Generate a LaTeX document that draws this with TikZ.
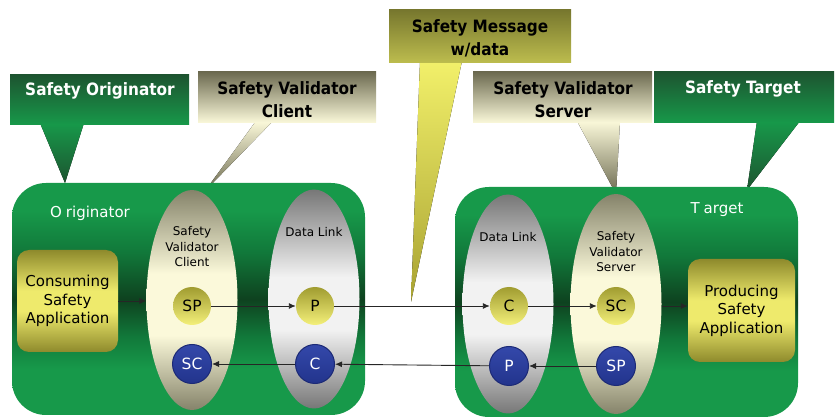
\documentclass[tikz,border=0pt]{standalone}
\usepackage{fontspec}
\setmainfont{DejaVu Sans}
\newfontfamily\calloutfont{DejaVu Sans Condensed}
\usetikzlibrary{shapes.geometric,arrows.meta}

% palette
\definecolor{grnB}{HTML}{17994A}
\definecolor{grnM}{HTML}{11783A}
\definecolor{grnD}{HTML}{0E421F}
\definecolor{grnTop}{HTML}{1D5430}
\definecolor{tanD}{HTML}{85836A}
\definecolor{tanL}{HTML}{FBF9DA}
\definecolor{tanTop}{HTML}{6C6A50}
\definecolor{greyD}{HTML}{777777}
\definecolor{greyL}{HTML}{F2F2F2}
\definecolor{oliveD}{HTML}{8E8A2C}
\definecolor{yellowL}{HTML}{EEEA6C}
\definecolor{msgTop}{HTML}{77772E}
\definecolor{msgBot}{HTML}{BDBD4E}
\definecolor{ptrY}{HTML}{F2F06A}
\definecolor{ptrO}{HTML}{A8A232}
\definecolor{blueT}{HTML}{3448AA}
\definecolor{blueB}{HTML}{22348C}
\definecolor{blueE}{HTML}{1C2A76}
\definecolor{circT}{HTML}{A09C30}
\definecolor{circB}{HTML}{F4F07A}

% shadings: 25bp = bottom of the path, 75bp = top of the path
\pgfdeclareverticalshading{greenpanel}{100bp}{color(0bp)=(grnB); color(35bp)=(grnB); color(42bp)=(grnM); color(50bp)=(grnD); color(60bp)=(grnM); color(69bp)=(grnB); color(100bp)=(grnB)}
\pgfdeclareverticalshading{tanbar}{100bp}{color(0bp)=(tanD); color(25bp)=(tanD); color(42bp)=(tanL); color(56bp)=(tanL); color(75bp)=(tanD); color(100bp)=(tanD)}
\pgfdeclareverticalshading{greybar}{100bp}{color(0bp)=(greyD); color(25bp)=(greyD); color(43bp)=(greyL); color(55bp)=(greyL); color(75bp)=(greyD); color(100bp)=(greyD)}
\pgfdeclareverticalshading{appbox}{100bp}{color(0bp)=(oliveD); color(25bp)=(oliveD); color(45bp)=(yellowL); color(55bp)=(yellowL); color(75bp)=(oliveD); color(100bp)=(oliveD)}

\tikzset{
  panel/.style={shading=greenpanel, rounded corners=34pt, inner sep=0pt},
  validator/.style={ellipse, shading=tanbar, inner sep=0pt, minimum width=91pt, minimum height=220pt},
  datalink/.style={ellipse, shading=greybar, inner sep=0pt, minimum width=91pt, minimum height=219pt},
  appl/.style={shading=appbox, rounded corners=12pt, inner sep=0pt, align=center,
    font=\fontsize{15}{18.5}\selectfont},
  ybub/.style={circle, top color=circT, bottom color=circB, minimum size=38pt, inner sep=0pt,
    font=\fontsize{15.5}{15.5}\selectfont},
  bbub/.style={circle, top color=blueT, bottom color=blueB, draw=blueE, line width=1pt,
    minimum size=39pt, inner sep=0pt, text=white, font=\fontsize{15.5}{15.5}\selectfont},
  partlabel/.style={align=center, font=\fontsize{12}{15.5}\selectfont},
  paneltitle/.style={text=white, font=\fontsize{15}{15}\selectfont},
  calloutbox/.style={inner sep=0pt},
  callouttext/.style={align=center, font=\calloutfont\bfseries\fontsize{17}{23}\selectfont},
  arr/.style={-{Latex[length=7pt,width=6pt]}, line width=0.9pt, black!85},
}

\begin{document}
\begin{tikzpicture}[x=1pt, y=-1pt]
\useasboundingbox (0,0) rectangle (838,419);

% ---- callout pointers ----
\fill[top color=grnB, bottom color=grnTop] (40,123) -- (84,123) -- (65,183) -- cycle;
\fill[top color=tanL, bottom color=tanTop] (256,121) -- (273,121) -- (205,191) -- cycle;
\fill[top color=ptrY, bottom color=ptrO] (420,61) -- (462,61) -- (411,302) -- cycle;
\fill[top color=tanL, bottom color=tanTop] (577,121) -- (620,121) -- (616,194) -- cycle;
\fill[top color=grnB, bottom color=grnTop] (757,121) -- (800,121) -- (747,190) -- cycle;

% ---- panels ----
\node[panel, minimum width=353pt, minimum height=232pt] (orig) at (188.5,299) {};
\node[panel, minimum width=343pt, minimum height=230pt] (targ) at (626.5,302) {};
\node[paneltitle] (origt) at (90,213) {O\kern4pt riginator};
\node[paneltitle] (targt) at (717,210) {T\kern4pt arget};

% ---- layer ellipses ----
\node[validator] (svc) at (192,300) {};
\node[datalink] (dlL) at (314,299) {};
\node[datalink] (dlR) at (508,304) {};
\node[validator] (svs) at (616,304) {};

\node[partlabel] (svct) at (192,247) {Safety\\Validator\\Client};
\node[partlabel] (dlLt) at (314,232) {Data Link};
\node[partlabel] (dlRt) at (508,237) {Data Link};
\node[partlabel] (svst) at (616,252) {Safety\\Validator\\Server};

% ---- applications ----
\node[appl, minimum width=101pt, minimum height=102pt] (cons) at (67.5,301) {Consuming\\Safety\\Application};
\node[appl, minimum width=107pt, minimum height=103pt] (prod) at (741.5,310.5) {Producing\\Safety\\Application};

% ---- producer / consumer bubbles ----
\node[ybub] (spL) at (192,306) {SP};
\node[ybub] (pL)  at (315,306) {P};
\node[bbub] (scL) at (192,364) {SC};
\node[bbub] (cL)  at (315,364) {C};
\node[ybub] (cR)  at (509,306) {C};
\node[ybub] (scR) at (616,306) {SC};
\node[bbub] (pR)  at (509,366) {P};
\node[bbub] (spR) at (616,366) {SP};

% ---- data flow ----
\draw[arr] (cons.east) -- (cons.east -| svc.west);
\draw[arr] (spL) -- (pL);
\draw[arr] (pL) -- (cR);
\draw[arr] (cR) -- (scR);
\draw[arr] (scR -| svs.east) -- (scR -| prod.west);
\draw[arr] (spR) -- (pR);
\draw[arr] (pR) -- (cL);
\draw[arr] (cL) -- (scL);

% ---- callout boxes ----
\node[calloutbox, top color=grnTop, bottom color=grnB, minimum width=179pt, minimum height=50pt] (so) at (99.5,100) {};
\node[calloutbox, top color=tanTop, bottom color=tanL, minimum width=178pt, minimum height=51pt] (svcc) at (287,97.5) {};
\node[calloutbox, top color=msgTop, bottom color=msgBot, minimum width=182pt, minimum height=53pt] (sm) at (480,36.5) {};
\node[calloutbox, top color=tanTop, bottom color=tanL, minimum width=179pt, minimum height=51pt] (svsc) at (562.5,97.5) {};
\node[calloutbox, top color=grnTop, bottom color=grnB, minimum width=180pt, minimum height=51pt] (st) at (744,97.5) {};

\node[callouttext, text=white] (sot) at (100,91) {Safety Originator};
\node[callouttext] (svcct) at (287,100) {Safety Validator\\Client};
\node[callouttext] (smt) at (480,38.5) {Safety Message\\w/data};
\node[callouttext] (svsct) at (563,100) {Safety Validator\\Server};
\node[callouttext, text=white] (stt) at (743,89) {Safety Target};
\end{tikzpicture}
\end{document}
